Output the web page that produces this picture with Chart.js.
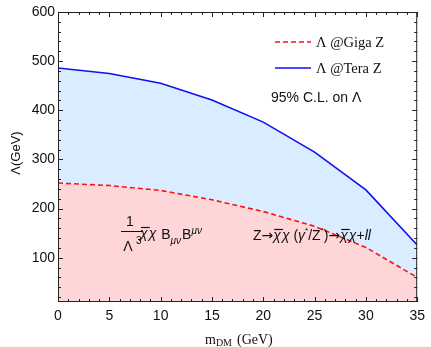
<!DOCTYPE html>
<html>
<head>
<meta charset="UTF-8">
<title>Lambda bounds</title>
<script src="https://cdn.jsdelivr.net/npm/chart.js"></script>
<style>
  html, body { margin: 0; padding: 0; background: #fff; }
  #box { width: 431px; height: 347px; }
</style>
</head>
<body>
<div id="box"><canvas id="c" width="431" height="347"></canvas></div>
<script>
// dark matter mass (GeV)
const mDM = [0, 5, 10, 15, 20, 25, 30, 35];
// 95% C.L. bounds on Lambda (GeV)
const gigaZ = [252, 247, 237, 218, 194, 164, 121, 60];
const teraZ = [486, 475, 455, 421, 376, 315, 238, 126];
const yTicks = [100, 200, 300, 400, 500, 600];
const xTicks = [0, 5, 10, 15, 20, 25, 30, 35];

const sans = '"Liberation Sans", Arial, sans-serif';
const serif = '"Liberation Serif", "Times New Roman", serif';

// frame + inward ticks on all four sides
const framePlugin = {
  id: 'frame',
  afterDatasetsDraw(chart) {
    const { ctx, chartArea: a, scales: { x, y } } = chart;
    ctx.save();
    ctx.strokeStyle = '#222';
    ctx.lineWidth = 1;
    ctx.strokeRect(a.left + 0.5, a.top + 0.5, a.right - a.left - 1, a.bottom - a.top - 1);
    ctx.beginPath();
    for (let v = 0; v <= 35; v++) {
      const px = Math.round(x.getPixelForValue(v)) + 0.5;
      const len = v % 5 === 0 ? 5 : 3;
      ctx.moveTo(px, a.bottom); ctx.lineTo(px, a.bottom - len);
      ctx.moveTo(px, a.top); ctx.lineTo(px, a.top + len);
    }
    for (let v = 20; v <= 600; v += 20) {
      if (v < y.min) continue;
      const py = Math.round(y.getPixelForValue(v)) + 0.5;
      const len = v % 100 === 0 ? 5 : 3;
      ctx.moveTo(a.left, py); ctx.lineTo(a.left + len, py);
      ctx.moveTo(a.right, py); ctx.lineTo(a.right - len, py);
    }
    ctx.stroke();
    ctx.restore();
  }
};

function chiBarChi(ctx, x0, yb, size) {
  // draws "χ̄χ" with an overline on the first chi; returns end x
  ctx.font = 'italic ' + size + 'px ' + sans;
  const w = ctx.measureText('χ').width;
  ctx.fillText('χ', x0, yb);
  ctx.fillText('χ', x0 + w + 1, yb);
  ctx.beginPath();
  ctx.lineWidth = 1.2;
  ctx.moveTo(x0 + 1, yb - size * 0.75);
  ctx.lineTo(x0 + w + 2, yb - size * 0.75);
  ctx.stroke();
  return x0 + 2 * w + 1;
}

const notesPlugin = {
  id: 'notes',
  afterDraw(chart) {
    const { ctx } = chart;
    ctx.save();
    ctx.fillStyle = '#111';
    ctx.strokeStyle = '#111';
    ctx.textBaseline = 'alphabetic';
    ctx.textAlign = 'left';

    // legend
    chart.data.datasets.forEach((ds, i) => {
      const ly = 42 + i * 26;
      ctx.beginPath();
      ctx.strokeStyle = ds.borderColor;
      ctx.lineWidth = 1.5;
      ctx.setLineDash(ds.borderDash || []);
      ctx.moveTo(275, ly); ctx.lineTo(311, ly);
      ctx.stroke();
      ctx.setLineDash([]);
      ctx.font = '14.5px ' + serif;
      ctx.fillText(ds.label, 316, ly + 5);
    });
    ctx.strokeStyle = '#111';

    ctx.font = '14px ' + sans;
    ctx.fillText('95% C.L. on Λ', 271, 102);

    // 1/Λ^3 χ̄χ B_μν B^μν
    ctx.font = '14px ' + sans;
    ctx.textAlign = 'center';
    ctx.fillText('1', 130, 226);
    ctx.beginPath(); ctx.lineWidth = 1;
    ctx.moveTo(121, 231.5); ctx.lineTo(143, 231.5); ctx.stroke();
    ctx.fillText('Λ', 128, 251);
    ctx.textAlign = 'left';
    ctx.font = '10px ' + sans;
    ctx.fillText('3', 136, 244);
    let ex = chiBarChi(ctx, 140, 238, 14);
    ctx.font = '14px ' + sans;
    ctx.fillText('B', ex + 5, 239);
    let bx = ex + 5 + ctx.measureText('B').width;
    ctx.font = 'italic 10px ' + sans;
    ctx.fillText('μν', bx, 244);
    bx += ctx.measureText('μν').width + 1;
    ctx.font = '14px ' + sans;
    ctx.fillText('B', bx, 239);
    bx += ctx.measureText('B').width;
    ctx.font = 'italic 10px ' + sans;
    ctx.fillText('μν', bx, 234);

    // Z -> χ̄χ (γ*/Z*) -> χ̄χ + ll
    const arrowFont = '14px "DejaVu Sans", sans-serif';
    ctx.font = '14px ' + sans;
    let zx = 253, zy = 240;
    ctx.fillText('Z', zx, zy); zx += ctx.measureText('Z').width;
    ctx.font = arrowFont;
    ctx.fillText('→', zx, zy); zx += ctx.measureText('→').width;
    zx = chiBarChi(ctx, zx, zy, 14);
    ctx.font = '14px ' + sans;
    ctx.fillText(' (', zx, zy); zx += ctx.measureText(' (').width;
    ctx.font = 'italic 14px ' + sans;
    ctx.fillText('γ', zx, zy); zx += ctx.measureText('γ').width;
    ctx.font = '8px ' + sans;
    ctx.fillText('*', zx, zy - 7); zx += ctx.measureText('*').width;
    ctx.font = '14px ' + sans;
    ctx.fillText('/Z', zx, zy); zx += ctx.measureText('/Z').width;
    ctx.font = '8px ' + sans;
    ctx.fillText('*', zx, zy - 7); zx += ctx.measureText('*').width;
    ctx.font = '14px ' + sans;
    ctx.fillText(')', zx, zy); zx += ctx.measureText(')').width;
    ctx.font = arrowFont;
    ctx.fillText('→', zx, zy); zx += ctx.measureText('→').width;
    zx = chiBarChi(ctx, zx, zy, 14);
    ctx.font = '14px ' + sans;
    ctx.fillText('+', zx, zy); zx += ctx.measureText('+').width;
    ctx.font = 'italic 14px ' + sans;
    ctx.fillText('ll', zx, zy);

    // axis titles
    ctx.font = '14px ' + serif;
    ctx.fillText('m', 205, 344);
    let mx = 205 + ctx.measureText('m').width;
    ctx.font = '10px ' + serif;
    ctx.fillText('DM', mx, 346);
    mx += ctx.measureText('DM').width + 5;
    ctx.font = '14px ' + serif;
    ctx.fillText('(GeV)', mx, 344);

    ctx.translate(20, 153);
    ctx.rotate(-Math.PI / 2);
    ctx.textAlign = 'center';
    ctx.font = '13px ' + sans;
    ctx.fillText('Λ(GeV)', 0, 0);
    ctx.restore();
  }
};

new Chart(document.getElementById('c'), {
  type: 'line',
  data: {
    labels: mDM,
    datasets: [
      {
        label: 'Λ @Giga Z',
        data: gigaZ,
        borderColor: '#ff1010',
        borderDash: [5, 3],
        borderWidth: 1.6,
        backgroundColor: 'rgba(255, 214, 216, 1)',
        fill: 'start',
        pointRadius: 0,
        tension: 0
      },
      {
        label: 'Λ @Tera Z',
        data: teraZ,
        borderColor: '#1010ee',
        borderWidth: 1.6,
        backgroundColor: 'rgba(218, 236, 255, 1)',
        fill: '-1',
        pointRadius: 0,
        tension: 0
      }
    ]
  },
  options: {
    responsive: false,
    animation: false,
    layout: { padding: { top: 12, right: 9, left: 0, bottom: 0 } },
    plugins: { legend: { display: false }, tooltip: { enabled: false } },
    scales: {
      x: {
        type: 'linear',
        min: 0, max: 35,
        afterBuildTicks(s) { s.ticks = xTicks.map(v => ({ value: v })); },
        afterFit(s) { s.height = 45; },
        grid: { display: false, drawTicks: false },
        border: { display: false },
        ticks: { color: '#111', font: { family: sans, size: 14 }, padding: 6, maxRotation: 0 }
      },
      y: {
        min: 10, max: 600,
        afterBuildTicks(s) { s.ticks = yTicks.map(v => ({ value: v })); },
        afterFit(s) { s.width = 58; },
        grid: { display: false, drawTicks: false },
        border: { display: false },
        ticks: { color: '#111', font: { family: sans, size: 14 }, padding: 3 }
      }
    }
  },
  plugins: [framePlugin, notesPlugin]
});
</script>
</body>
</html>
